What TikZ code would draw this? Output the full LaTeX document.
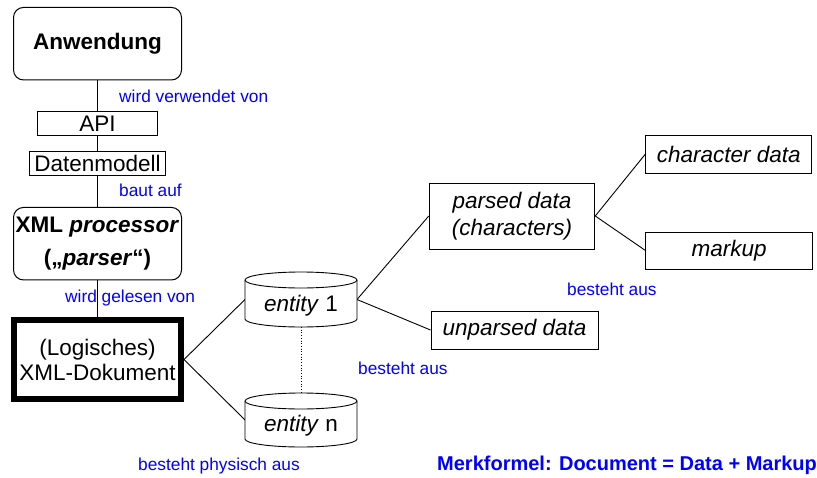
\documentclass[tikz,border=0pt]{standalone}
\usepackage{fontspec}
\setmainfont{Liberation Sans}
\tikzset{
  box/.style={draw, line width=1pt, inner sep=0pt, align=center, font=\fontsize{22.5}{26}\selectfont},
  rbox/.style={box, rounded corners=10pt},
  lbl/.style={text=blue, font=\fontsize{17.3}{20}\selectfont, inner sep=0pt, anchor=base west},
  conn/.style={line width=0.9pt},
  cylbody/.style={minimum width=112pt, inner sep=0pt, outer sep=0pt},
  ctext/.style={font=\fontsize{22.5}{26}\selectfont, inner sep=0pt}
}
\begin{document}
\begin{tikzpicture}[x=1pt,y=-1pt]
\useasboundingbox (0,0) rectangle (817,477);
% left column
\node[rbox, minimum width=168pt, minimum height=72.5pt] (anw) at (97.5,43.7) {\textbf{Anwendung}};
\node[box, minimum width=120.5pt, minimum height=24pt] (api) at (97.5,123.7) {API};
\node[box, minimum width=136pt, minimum height=23.5pt] (dm) at (97.5,163.3) {Datenmodell};
\node[rbox, minimum width=168pt, minimum height=72.5pt, font=\fontsize{22.5}{33}\selectfont] (proc) at (97.5,243.7) {\textbf{XML \textit{processor}}\\\textbf{(„\textit{parser}“)}};
\node[box, line width=6pt, minimum width=167pt, minimum height=79pt, font=\fontsize{22.5}{25}\selectfont] (doc) at (97.5,359.5) {(Logisches)\\XML-Dokument};
% right boxes
\node[box, minimum width=165.5pt, minimum height=66pt, font=\fontsize{22.5}{27}\selectfont] (pd) at (512,216) {\textit{parsed data}\\\textit{(characters)}};
\node[box, minimum width=167pt, minimum height=38pt] (ud) at (514.5,330) {\textit{unparsed data}};
\node[box, minimum width=165.5pt, minimum height=38pt] (cd) at (728.7,154) {\textit{character data}};
\node[box, minimum width=166.5pt, minimum height=37pt] (mk) at (729.2,250.5) {\textit{markup}};
% cylinder bodies
\node[cylbody, minimum height=39pt] (e1) at (301,299.5) {};
\node[cylbody, minimum height=38pt] (en) at (301,420) {};
% connectors
\draw[conn] (anw) -- (api);
\draw[conn] (api) -- (dm);
\draw[conn] (dm) -- (proc);
\draw[conn] (proc) -- (doc);
\draw[conn] (doc.east) -- (e1.west);
\draw[conn] (doc.east) -- (en.west);
\draw[conn] (e1.east) -- (pd.west);
\draw[conn] (e1.east) -- (ud.west);
\draw[conn] (pd.east) -- (cd.west);
\draw[conn] (pd.east) -- (mk.west);
\draw[line width=0.7pt, dotted] ([yshift=-8pt]e1.south) -- ([yshift=8pt]en.north);
% cylinders
\foreach \c in {e1,en} {
  \draw[conn, fill=white] (\c.north west) -- (\c.south west)
    arc[start angle=180, end angle=360, x radius=56pt, y radius=8pt]
    -- (\c.north east)
    arc[start angle=0, end angle=180, x radius=56pt, y radius=8pt] -- cycle;
  \draw[conn] (\c.north west) arc[start angle=180, end angle=360, x radius=56pt, y radius=8pt];
}
\node[ctext] (e1t) at (301,306) {\textit{entity} 1};
\node[ctext] (ent) at (301,426) {\textit{entity} n};
% labels
\node[lbl] (l1) at (119,102) {wird verwendet von};
\node[lbl] (l2) at (119,196) {baut auf};
\node[lbl] (l3) at (65,302) {wird gelesen von};
\node[lbl] (l4) at (358,374) {besteht aus};
\node[lbl] (l5) at (567,295) {besteht aus};
\node[lbl] (l6) at (138,470) {besteht physisch aus};
\node[lbl, font=\bfseries\fontsize{20}{22}\selectfont] (l7) at (437,470.5) {Merkformel: Document = Data + Markup};
\end{tikzpicture}
\end{document}
